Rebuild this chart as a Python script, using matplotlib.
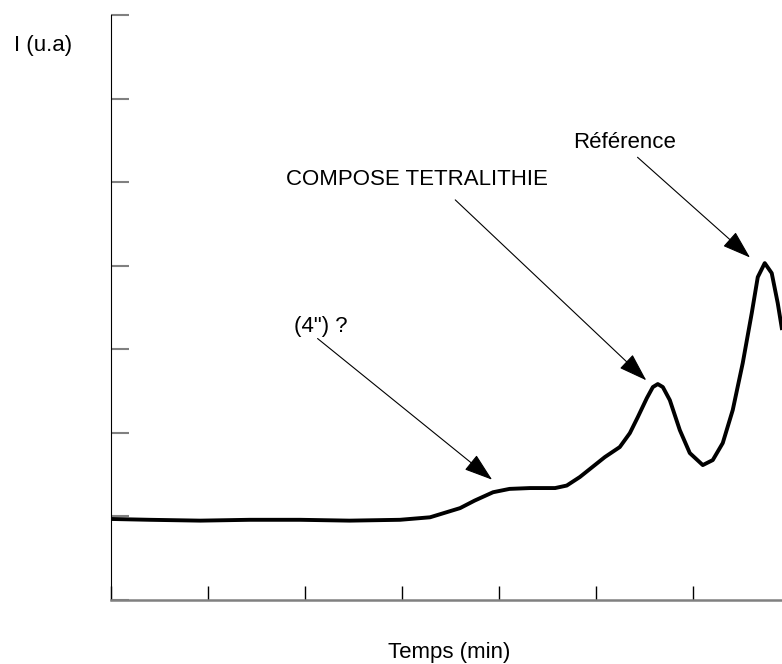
import numpy as np
import matplotlib.pyplot as plt

plt.rcParams['font.family'] = ['Liberation Sans', 'DejaVu Sans']

# chromatogram trace (time in tick units, intensity in tick units)
temps = [0.00, 0.40, 0.92, 1.43, 1.95, 2.46, 2.98, 3.29, 3.60, 3.75, 3.94, 4.11,
         4.32, 4.58, 4.70, 4.835, 5.093, 5.247, 5.351, 5.433, 5.526, 5.588, 5.639,
         5.691, 5.763, 5.866, 5.969, 6.103, 6.206, 6.309, 6.412, 6.515, 6.608,
         6.670, 6.742, 6.814, 6.876, 6.918]
intensite = [0.97, 0.96, 0.95, 0.96, 0.96, 0.95, 0.96, 0.99, 1.10, 1.19, 1.29, 1.33,
             1.34, 1.34, 1.37, 1.472, 1.711, 1.831, 1.998, 2.190, 2.417, 2.549, 2.585,
             2.549, 2.393, 2.034, 1.759, 1.615, 1.675, 1.879, 2.274, 2.836, 3.434,
             3.865, 4.033, 3.913, 3.554, 3.255]

labels = ['(4") ?', 'COMPOSE TETRALITHIE', 'Référence']
label_pos = [(2.16, 3.28), (3.16, 5.03), (5.30, 5.48)]
arrow_start = [(2.13, 3.13), (3.55, 4.79), (5.43, 5.30)]
arrow_tip = [(3.93, 1.44), (5.52, 2.63), (6.59, 4.10)]

fig = plt.figure(figsize=(7.82, 6.64), dpi=100)
ax = fig.add_axes([0.142, 0.0964, 0.858, 0.8806])

ax.plot(temps, intensite, color='black', lw=2.8, solid_joinstyle='round')

for lab, pos, s, t in zip(labels, label_pos, arrow_start, arrow_tip):
    ax.text(pos[0], pos[1], lab, fontsize=16, ha='center', va='center')
    ax.annotate('', xy=t, xytext=s,
                arrowprops=dict(arrowstyle='-|>,head_length=0.9,head_width=0.3',
                                lw=0.8, color='black', mutation_scale=20,
                                shrinkA=0, shrinkB=0))

ax.set_xlim(0, 6.92)
ax.set_ylim(0, 7)
ax.set_xticks(range(0, 7))
ax.set_yticks(range(0, 8))
ax.set_xticklabels([])
ax.set_yticklabels([])
ax.tick_params(axis='x', direction='in', length=10, width=1, color='black')
ax.tick_params(axis='y', direction='in', length=13, width=1.5, color='gray')
ax.spines['top'].set_visible(False)
ax.spines['right'].set_visible(False)
ax.spines['left'].set_color('black')
ax.spines['bottom'].set_color('gray')
ax.spines['bottom'].set_linewidth(1.8)

fig.text(0.055, 0.932, 'I (u.a)', fontsize=16, ha='center', va='center')
fig.text(0.574, 0.017, 'Temps (min)', fontsize=16, ha='center', va='center')

plt.savefig('out.png')
